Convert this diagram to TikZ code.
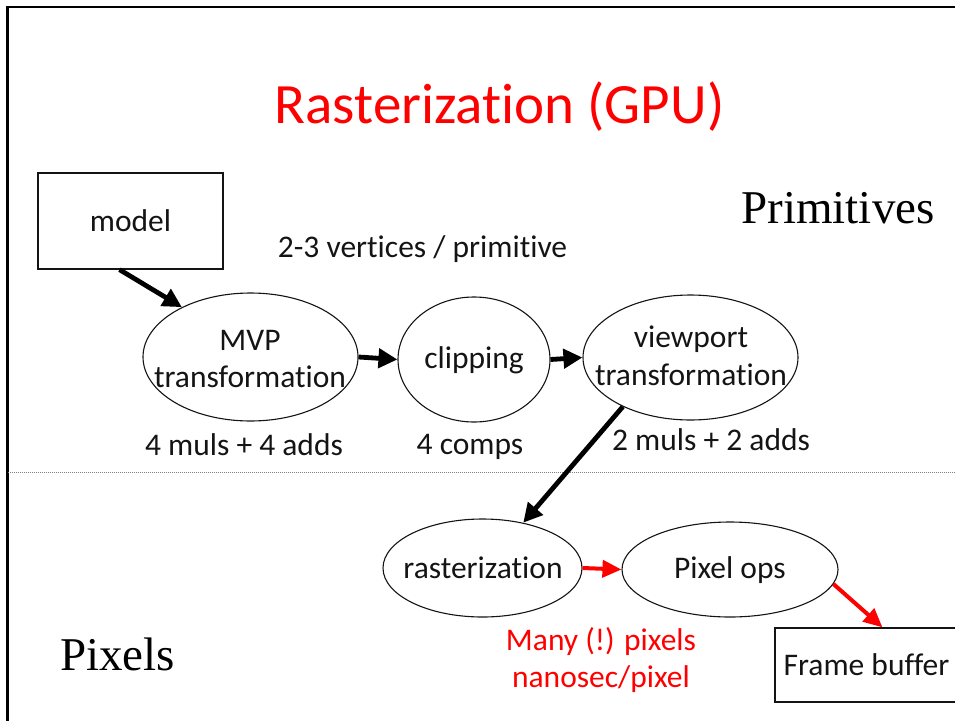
\documentclass[tikz,border=0pt]{standalone}
\usepackage{fontspec}
\setmainfont{Carlito}[Ligatures=NoCommon]
\newfontfamily\serifhead{Liberation Serif}
\usetikzlibrary{arrows.meta,shapes.geometric,calc}
\definecolor{hotred}{RGB}{255,0,0}
\definecolor{ink}{RGB}{20,20,20}
\begin{document}
\begin{tikzpicture}[x=1pt,y=-1pt,
  lbl/.style={font=\fontsize{31.5}{37.5}\selectfont, text=ink, inner sep=0pt, anchor=base},
  redlbl/.style={lbl, text=hotred},
  sidelbl/.style={font=\serifhead\fontsize{47}{50}\selectfont, text=black, inner sep=0pt, anchor=base},
  stage/.style={ellipse, draw=ink, line width=1.1pt, inner sep=0pt},
  block/.style={rectangle, draw=ink, line width=1.2pt, inner sep=0pt,
    font=\fontsize{31.5}{37.5}\selectfont, text=ink},
  flow/.style={line width=4.8pt, draw=black, -{Triangle[length=19pt,width=19pt]}},
  hotflow/.style={line width=4pt, draw=hotred, -{Triangle[length=19pt,width=17pt]}},
]
\useasboundingbox (0,0) rectangle (955,720);
\clip (0,0) rectangle (955,720);

% slide frame and separator between primitive and pixel stages
\draw[line width=2.5pt] (7.5,730) -- (7.5,7) -- (965,7);
\draw[gray, line width=1pt, dash pattern=on 1pt off 1pt] (7.5,472) -- (955,472);

% title and side headings
\node[anchor=base, inner sep=0pt, text=hotred, font=\fontsize{57}{60}\selectfont] (title) at (499.5,123) {Rasterization (GPU)};
\node[sidelbl] (prims) at (838,223) {Primitives};
\node[sidelbl] (pixs) at (117.5,670) {Pixels};

% pipeline stages
\node[block, minimum width=185pt, minimum height=96pt] (model) at (130.5,221) {model};
\node[stage, minimum width=215pt, minimum height=128pt] (mvp) at (250.5,357) {};
\node[stage, minimum width=152pt, minimum height=125pt] (clip) at (474,359.5) {};
\node[stage, minimum width=215pt, minimum height=125pt] (view) at (690.5,357.5) {};
\node[stage, minimum width=199pt, minimum height=98pt] (rast) at (482.5,568) {};
\node[stage, minimum width=216pt, minimum height=95pt] (pix) at (730,569.5) {};
\node[block, minimum width=183pt, minimum height=74pt] (fb) at (866.5,665) {Frame buffer};

% stage names
\node[lbl] (mvpa) at (250,350) {MVP};
\node[lbl] (mvpb) at (250,387) {transformation};
\node[lbl] (clipa) at (474,368) {clipping};
\node[lbl] (viewa) at (691,347) {viewport};
\node[lbl] (viewb) at (691,385) {transformation};
\node[lbl] (rasta) at (483,578) {rasterization};
\node[lbl] (pixa) at (730,578) {Pixel ops};

% cost annotations
\node[lbl] (verts) at (422.5,257) {2-3 vertices / primitive};
\node[lbl] (mvpcost) at (244,455) {4 muls + 4 adds};
\node[lbl] (clipcost) at (470,454) {4 comps};
\node[lbl] (viewcost) at (711,450) {2 muls + 2 adds};
\node[redlbl] (many) at (601,650) {Many (!) pixels};
\node[redlbl] (nano) at (601,687) {nanosec/pixel};

% data flow
\draw[flow] ([xshift=-11pt]model.south) -- (mvp.144);
\draw[flow] (mvp.east) -- (clip.west);
\draw[flow] (clip.east) -- (view.west);
\draw[flow] (view.216) -- (rast.48);
\draw[hotflow] (rast.east) -- (pix.west);
\draw[hotflow] (pix.-8) -- ([xshift=16pt]fb.north);
\end{tikzpicture}
\end{document}
